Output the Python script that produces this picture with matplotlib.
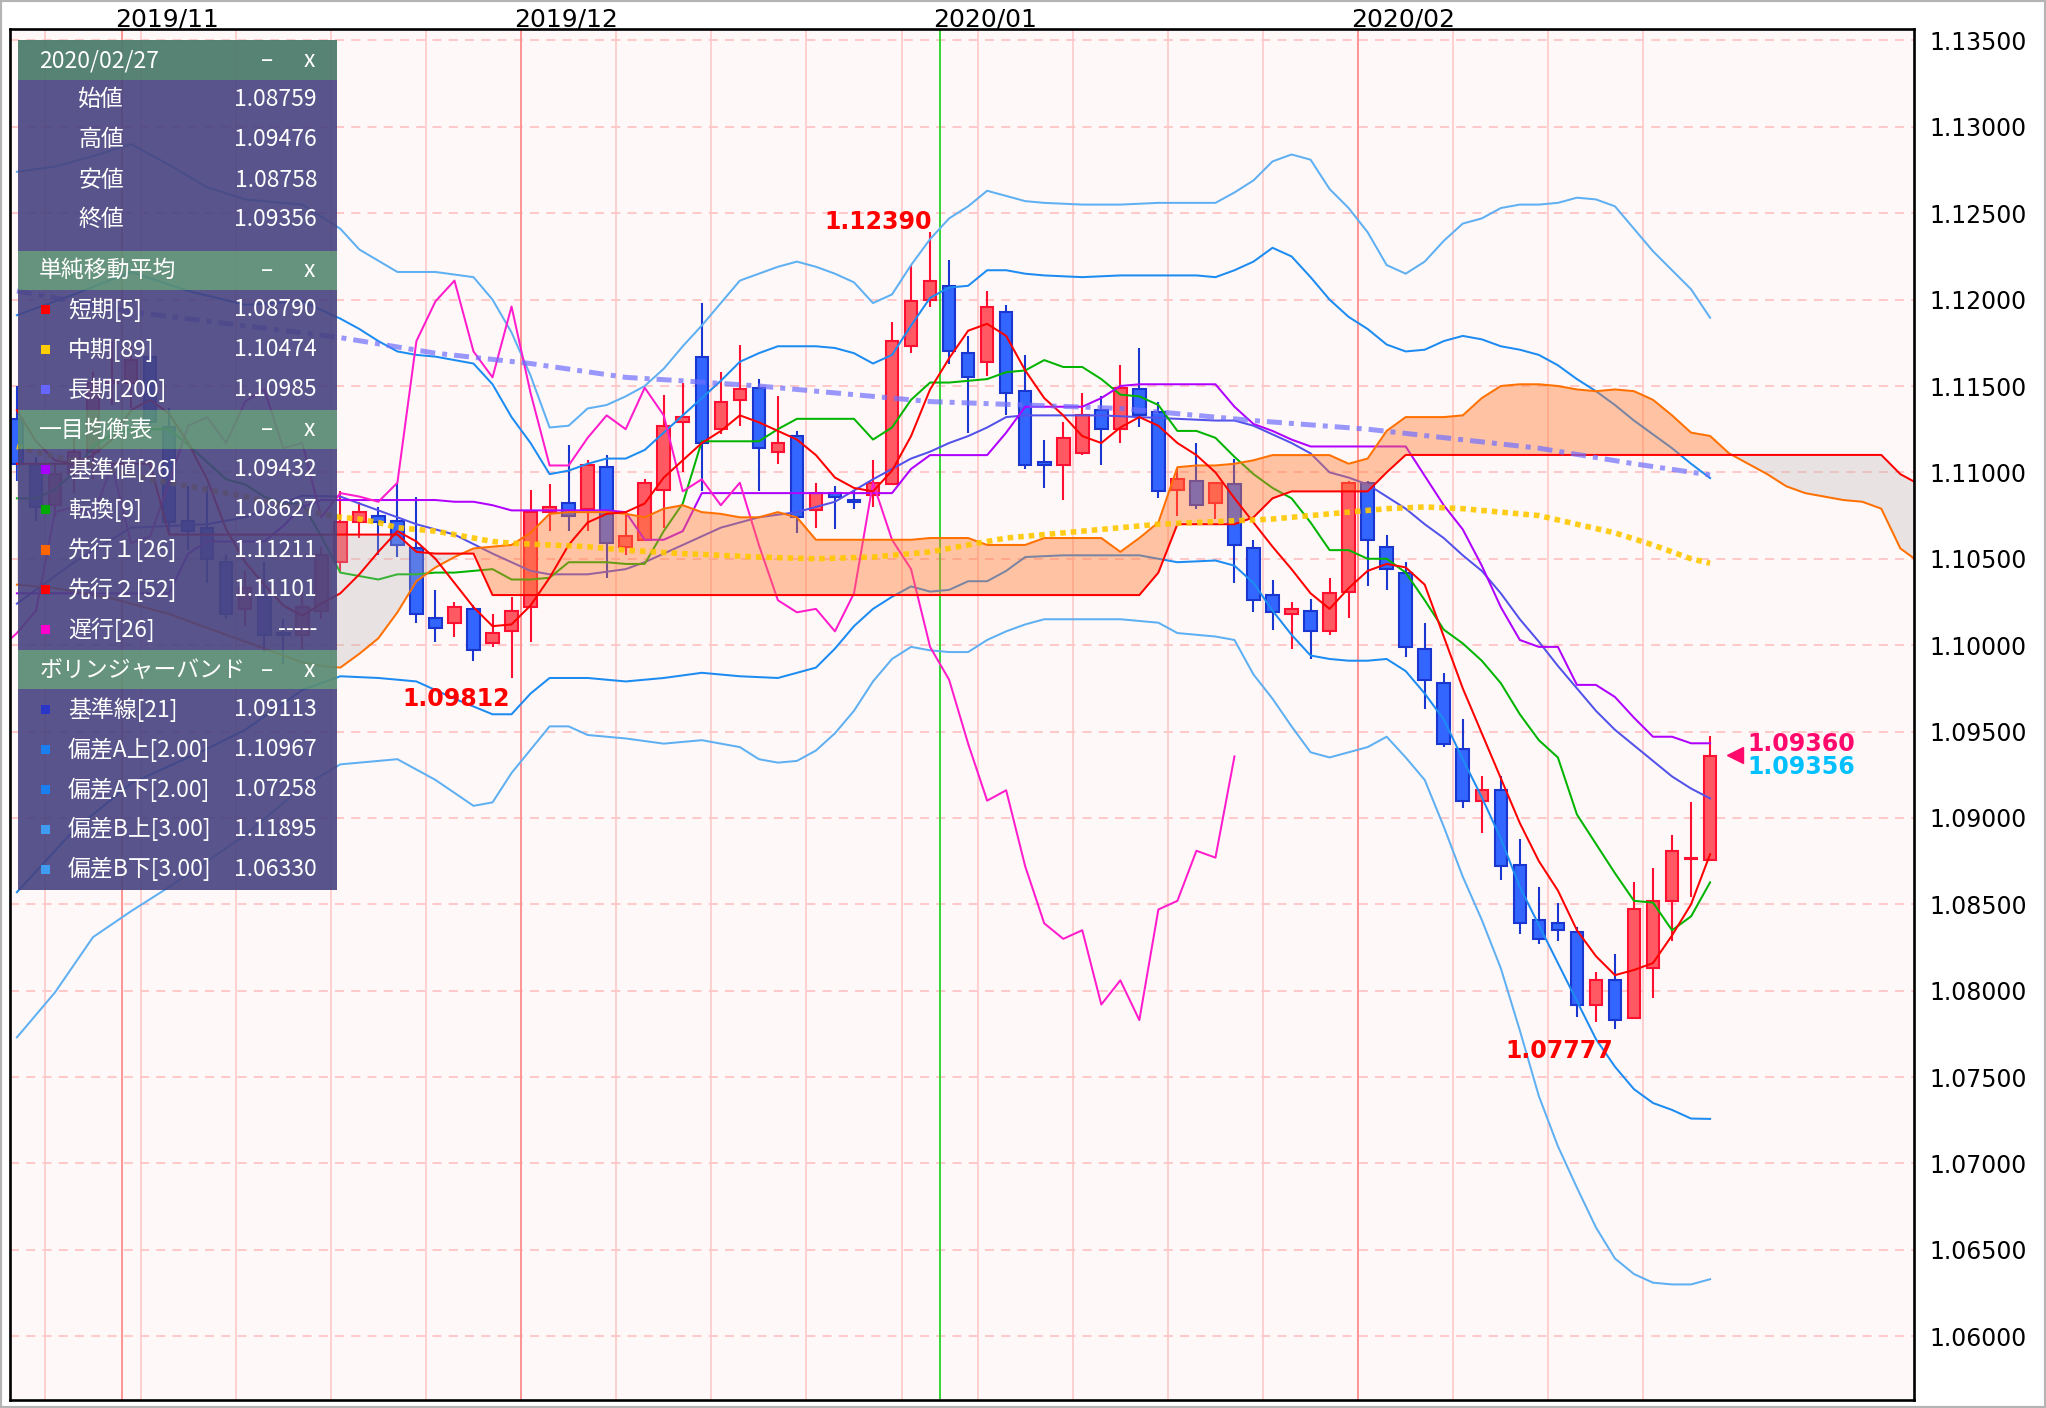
import datetime as dt
import numpy as np
import matplotlib
matplotlib.use("Agg")
import matplotlib.pyplot as plt
from matplotlib.patches import Rectangle

plt.rcParams['font.family'] = ['Noto Sans CJK JP', 'DejaVu Sans']

# ---------------------------------------------------------------- data
dates = ["2019-10-24", "2019-10-25", "2019-10-28", "2019-10-29", "2019-10-30", "2019-10-31",
         "2019-11-01", "2019-11-04", "2019-11-05", "2019-11-06", "2019-11-07", "2019-11-08",
         "2019-11-11", "2019-11-12", "2019-11-13", "2019-11-14", "2019-11-15", "2019-11-18",
         "2019-11-19", "2019-11-20", "2019-11-21", "2019-11-22", "2019-11-25", "2019-11-26",
         "2019-11-27", "2019-11-28", "2019-11-29",
         "2019-12-02", "2019-12-03", "2019-12-04", "2019-12-05", "2019-12-06", "2019-12-09",
         "2019-12-10", "2019-12-11", "2019-12-12", "2019-12-13", "2019-12-16", "2019-12-17",
         "2019-12-18", "2019-12-19", "2019-12-20", "2019-12-23", "2019-12-24", "2019-12-25",
         "2019-12-26", "2019-12-27", "2019-12-30", "2019-12-31",
         "2020-01-02", "2020-01-03", "2020-01-06", "2020-01-07", "2020-01-08", "2020-01-09",
         "2020-01-10", "2020-01-13", "2020-01-14", "2020-01-15", "2020-01-16", "2020-01-17",
         "2020-01-20", "2020-01-21", "2020-01-22", "2020-01-23", "2020-01-24", "2020-01-27",
         "2020-01-28", "2020-01-29", "2020-01-30", "2020-01-31",
         "2020-02-03", "2020-02-04", "2020-02-05", "2020-02-06", "2020-02-07", "2020-02-10",
         "2020-02-11", "2020-02-12", "2020-02-13", "2020-02-14", "2020-02-17", "2020-02-18",
         "2020-02-19", "2020-02-20", "2020-02-21", "2020-02-24", "2020-02-25", "2020-02-26",
         "2020-02-27"]

opens = [1.1131, 1.1104, 1.1081, 1.1099, 1.1112, 1.1152, 1.1152, 1.1167, 1.1126, 1.1072,
         1.1068, 1.1048, 1.1021, 1.1028, 1.1007, 1.1006, 1.1020, 1.1048, 1.1071, 1.1075,
         1.1072, 1.1056, 1.1016, 1.1013, 1.1021, 1.1001, 1.1008, 1.1022, 1.1077, 1.1082,
         1.1079, 1.1103, 1.1057, 1.1061, 1.1090, 1.1129, 1.1167, 1.1125, 1.1142, 1.1149,
         1.1112, 1.1121, 1.1078, 1.1088, 1.1084, 1.1087, 1.1093, 1.1173, 1.1200, 1.1208,
         1.1169, 1.1164, 1.1193, 1.1147, 1.1106, 1.1104, 1.1111, 1.1136, 1.1125, 1.1148,
         1.1135, 1.1090, 1.1095, 1.1082, 1.1093, 1.1056, 1.1029, 1.1018, 1.1020, 1.1008,
         1.1031, 1.1094, 1.1057, 1.1042, 1.0998, 1.0978, 1.0940, 1.0910, 1.0916, 1.0873,
         1.0841, 1.0839, 1.0834, 1.0792, 1.0806, 1.0784, 1.0813, 1.0852, 1.0876, 1.08759]
highs = [1.1150, 1.1109, 1.1105, 1.1121, 1.1158, 1.1176, 1.1175, 1.1176, 1.1137, 1.1092,
         1.1092, 1.1052, 1.1043, 1.1048, 1.1015, 1.1031, 1.1057, 1.1089, 1.1083, 1.1080,
         1.1094, 1.1086, 1.1032, 1.1025, 1.1023, 1.1018, 1.1028, 1.1090, 1.1093, 1.1116,
         1.1107, 1.1110, 1.1076, 1.1096, 1.1145, 1.1152, 1.1198, 1.1158, 1.1174, 1.1154,
         1.1144, 1.1124, 1.1094, 1.1092, 1.1090, 1.1107, 1.1187, 1.1220, 1.12390, 1.1223,
         1.1179, 1.1205, 1.1197, 1.1168, 1.1119, 1.1129, 1.1146, 1.1144, 1.1162, 1.1172,
         1.1141, 1.1102, 1.1117, 1.1094, 1.1108, 1.1061, 1.1038, 1.1025, 1.1027, 1.1039,
         1.1095, 1.1095, 1.1064, 1.1048, 1.1013, 1.0984, 1.0957, 1.0924, 1.0924, 1.0888,
         1.0860, 1.0851, 1.0837, 1.0811, 1.0821, 1.0863, 1.0871, 1.0890, 1.0909, 1.09476]
lows = [1.1095, 1.1072, 1.1074, 1.1088, 1.1096, 1.1139, 1.1137, 1.1123, 1.1064, 1.1055,
        1.1036, 1.1015, 1.1011, 1.0996, 1.0989, 1.0998, 1.1015, 1.1042, 1.1062, 1.1052,
        1.1051, 1.1013, 1.1002, 1.1005, 1.0991, 1.0999, 1.09812, 1.1002, 1.1066, 1.1066,
        1.1066, 1.1039, 1.1052, 1.1060, 1.1068, 1.1100, 1.1089, 1.1122, 1.1127, 1.1089,
        1.1105, 1.1065, 1.1068, 1.1067, 1.1079, 1.1080, 1.1093, 1.1169, 1.1196, 1.1163,
        1.1123, 1.1156, 1.1133, 1.1102, 1.1091, 1.1084, 1.1110, 1.1104, 1.1117, 1.1126,
        1.1085, 1.1075, 1.1079, 1.1073, 1.1036, 1.1019, 1.1009, 1.0998, 1.0992, 1.1006,
        1.1016, 1.1034, 1.1032, 1.0993, 1.0963, 1.0941, 1.0906, 1.0891, 1.0864, 1.0833,
        1.0827, 1.0829, 1.0785, 1.0782, 1.07777, 1.0784, 1.0796, 1.0829, 1.0854, 1.08758]
closes = [1.1105, 1.1080, 1.1099, 1.1112, 1.1152, 1.1153, 1.1165, 1.1129, 1.1071, 1.1066,
          1.1050, 1.1018, 1.1033, 1.1006, 1.1006, 1.1022, 1.1052, 1.1071, 1.1077, 1.1071,
          1.1058, 1.1018, 1.1010, 1.1022, 1.0997, 1.1007, 1.1020, 1.1077, 1.1080, 1.1075,
          1.1104, 1.1059, 1.1063, 1.1094, 1.1127, 1.1132, 1.1117, 1.1141, 1.1148, 1.1114,
          1.1117, 1.1074, 1.1088, 1.1086, 1.1083, 1.1094, 1.1176, 1.1199, 1.1211, 1.1170,
          1.1155, 1.1196, 1.1146, 1.1104, 1.1104, 1.1120, 1.1133, 1.1125, 1.1149, 1.1133,
          1.1089, 1.1096, 1.1081, 1.1094, 1.1058, 1.1026, 1.1019, 1.1021, 1.1008, 1.1030,
          1.1094, 1.1061, 1.1044, 1.0999, 1.0980, 1.0943, 1.0910, 1.0916, 1.0872, 1.0839,
          1.0830, 1.0835, 1.0792, 1.0806, 1.0783, 1.0847, 1.0852, 1.0881, 1.0877, 1.09356]

# simple moving averages
sma5 = [1.1136, 1.1118, 1.1107, 1.1105, 1.1110, 1.1119, 1.1136, 1.1142, 1.1134, 1.1117,
        1.1096, 1.1067, 1.1048, 1.1035, 1.1023, 1.1017, 1.1024, 1.1030, 1.1041, 1.1054,
        1.1066, 1.1060, 1.1050, 1.1036, 1.1022, 1.1011, 1.1012, 1.1023, 1.1039, 1.1058,
        1.1071, 1.1076, 1.1077, 1.1082, 1.1097, 1.1107, 1.1117, 1.1124, 1.1133, 1.1129,
        1.1124, 1.1119, 1.1110, 1.1097, 1.1091, 1.1089, 1.1101, 1.1121, 1.1148, 1.1166,
        1.1182, 1.1186, 1.1179, 1.1159, 1.1143, 1.1133, 1.1121, 1.1117, 1.1126, 1.1132,
        1.1127, 1.1117, 1.1110, 1.1100, 1.1085, 1.1071, 1.1057, 1.1044, 1.1030, 1.1021,
        1.1033, 1.1043, 1.1047, 1.1045, 1.1035, 1.1005, 1.0975, 1.0949, 1.0923, 1.0897,
        1.0875, 1.0858, 1.0835, 1.0820, 1.0809, 1.0812, 1.0816, 1.0832, 1.0850, 1.08790]
sma89_idx = [0, 2, 4, 7, 10, 12, 14, 16, 17, 18, 19, 20, 22, 23, 25, 26, 28, 30, 32, 35,
             39, 42, 45, 48, 50, 52, 54, 56, 58, 60, 62, 64, 66, 68, 70, 72, 74, 76, 78, 80,
             82, 84, 86, 88, 89]
sma89 = [1.1115, 1.1109, 1.1104, 1.1096, 1.1090, 1.1086, 1.1081, 1.1076, 1.1074, 1.1073,
         1.1071, 1.1068, 1.1066, 1.1064, 1.1060, 1.1059, 1.1058, 1.1057, 1.1055, 1.1053,
         1.1051, 1.1050, 1.1051, 1.1054, 1.1058, 1.1062, 1.1064, 1.1066, 1.1068, 1.1070,
         1.1071, 1.1072, 1.1073, 1.1075, 1.1077, 1.1079, 1.1080, 1.1079, 1.1077, 1.1075,
         1.1070, 1.1065, 1.1058, 1.1050, 1.10474]
sma200_idx = [0, 6, 17, 22, 27, 32, 35, 39, 42, 46, 48, 53, 58, 63, 65, 71, 80, 85, 89]
sma200 = [1.1205, 1.1193, 1.1178, 1.1169, 1.1163, 1.1155, 1.1153, 1.1150, 1.1147, 1.1143,
          1.1141, 1.1139, 1.1137, 1.1132, 1.1130, 1.1125, 1.1114, 1.1105, 1.10985]

# ichimoku
kijun = [1.1030, 1.1030, 1.1030, 1.1030, 1.1030, 1.1030, 1.1030, 1.1030, 1.1030, 1.1053,
         1.1060, 1.1060, 1.1060, 1.1060, 1.1069, 1.1080, 1.1084, 1.1084, 1.1084, 1.1084,
         1.1084, 1.1084, 1.1084, 1.1083, 1.1083, 1.1081, 1.1078, 1.1078, 1.1078, 1.1078,
         1.1078, 1.1078, 1.1077, 1.1061, 1.1061, 1.1066, 1.1088, 1.1088, 1.1088, 1.1088,
         1.1088, 1.1088, 1.1088, 1.1088, 1.1088, 1.1088, 1.1088, 1.1102, 1.1110, 1.1110,
         1.1110, 1.1110, 1.1123, 1.1138, 1.1138, 1.1138, 1.1138, 1.1143, 1.1150, 1.1151,
         1.1151, 1.1151, 1.1151, 1.1151, 1.1138, 1.1128, 1.1124, 1.1119, 1.1115, 1.1115,
         1.1115, 1.1115, 1.1115, 1.1115, 1.1098, 1.1081, 1.1067, 1.1046, 1.1022, 1.1003,
         1.0999, 1.0999, 1.0977, 1.0977, 1.0970, 1.0958, 1.0947, 1.0947, 1.09432, 1.09432]
tenkan = [1.1085, 1.1085, 1.1090, 1.1100, 1.1115, 1.1122, 1.1125, 1.1125, 1.1125, 1.1116,
          1.1106, 1.1096, 1.1093, 1.1086, 1.1082, 1.1082, 1.1063, 1.1042, 1.1040, 1.1038,
          1.1041, 1.1041, 1.1042, 1.1042, 1.1043, 1.1044, 1.1038, 1.1038, 1.1039, 1.1048,
          1.1048, 1.1048, 1.1047, 1.1047, 1.1066, 1.1082, 1.1118, 1.1118, 1.1118, 1.1118,
          1.1125, 1.1131, 1.1131, 1.1131, 1.1131, 1.1119, 1.1126, 1.1142, 1.1152, 1.1152,
          1.1153, 1.1154, 1.1158, 1.1159, 1.1165, 1.1161, 1.1161, 1.1154, 1.1145, 1.1144,
          1.1139, 1.1124, 1.1124, 1.1120, 1.1109, 1.1099, 1.1091, 1.1085, 1.1071, 1.1055,
          1.1055, 1.1050, 1.1050, 1.1042, 1.1026, 1.1009, 1.1001, 1.0991, 1.0978, 1.0960,
          1.0945, 1.0935, 1.0902, 1.0885, 1.0868, 1.0852, 1.0851, 1.0835, 1.0843, 1.08627]
senkou_a = [1.1035, 1.1034, 1.1033, 1.1031, 1.1029, 1.1027, 1.1024, 1.1021, 1.1018, 1.1014,
            1.1010, 1.1006, 1.1002, 1.0998, 1.0994, 1.0990, 1.0988, 1.0987, 1.0995, 1.1004,
            1.1019, 1.1037, 1.1045, 1.1051, 1.1056, 1.1057, 1.1058, 1.1065, 1.1076, 1.1077,
            1.1077, 1.1077, 1.1076, 1.1074, 1.1079, 1.1081, 1.1077, 1.1076, 1.1074, 1.1074,
            1.1077, 1.1074, 1.1061, 1.1061, 1.1061, 1.1061, 1.1061, 1.1061, 1.1062, 1.1062,
            1.1062, 1.1058, 1.1058, 1.1058, 1.1062, 1.1062, 1.1062, 1.1062, 1.1054, 1.1062,
            1.1071, 1.1103, 1.1104, 1.1104, 1.1105, 1.1107, 1.1110, 1.1110, 1.1110, 1.1110,
            1.1105, 1.1108, 1.1124, 1.1132, 1.1132, 1.1132, 1.1133, 1.1143, 1.1150, 1.1151,
            1.1151, 1.1150, 1.1148, 1.1147, 1.1148, 1.1147, 1.1142, 1.1133, 1.1123, 1.11211,
            1.1111, 1.1105, 1.1099, 1.1092, 1.1088, 1.1086, 1.1084, 1.1083, 1.1079, 1.1056,
            1.1048]
senkou_b = [1.1105, 1.1105, 1.1105, 1.1105, 1.1105, 1.1105, 1.1105, 1.1105, 1.1064, 1.1064,
            1.1064, 1.1064, 1.1064, 1.1064, 1.1064, 1.1064, 1.1064, 1.1064, 1.1064, 1.1064,
            1.1064, 1.1054, 1.1053, 1.1053, 1.1053, 1.1029, 1.1029, 1.1029, 1.1029, 1.1029,
            1.1029, 1.1029, 1.1029, 1.1029, 1.1029, 1.1029, 1.1029, 1.1029, 1.1029, 1.1029,
            1.1029, 1.1029, 1.1029, 1.1029, 1.1029, 1.1029, 1.1029, 1.1029, 1.1029, 1.1029,
            1.1029, 1.1029, 1.1029, 1.1029, 1.1029, 1.1029, 1.1029, 1.1029, 1.1029, 1.1029,
            1.1042, 1.1070, 1.1070, 1.1070, 1.1070, 1.1074, 1.1085, 1.1089, 1.1089, 1.1089,
            1.1089, 1.1089, 1.1100, 1.11101, 1.11101, 1.11101, 1.11101, 1.11101, 1.11101, 1.11101,
            1.11101, 1.11101, 1.11101, 1.11101, 1.11101, 1.11101, 1.11101, 1.11101, 1.11101, 1.11101,
            1.11101, 1.11101, 1.11101, 1.11101, 1.11101, 1.11101, 1.11101, 1.11101, 1.11101, 1.1099,
            1.1093]
chikou_shift = 25

# bollinger bands (21)
bb_mid_idx = [0, 3, 6, 8, 10, 12, 15, 17, 19, 21, 23, 25, 27, 28, 30, 32, 33, 35, 37, 39, 41,
              43, 45, 47, 48, 49, 50, 51, 52, 53, 55, 57, 59, 61, 63, 64, 65, 66, 67, 68, 69,
              70, 71, 72, 73, 74, 75, 76, 77, 78, 79, 80, 81, 82, 83, 84, 85, 86, 87, 88, 89]
bb_mid = [1.1024, 1.1048, 1.1068, 1.1069, 1.1070, 1.1074, 1.10865, 1.1086, 1.1078, 1.1070,
          1.1064, 1.1053, 1.1043, 1.1041, 1.1041, 1.1044, 1.1048, 1.1058, 1.1068, 1.1074,
          1.1077, 1.1083, 1.1096, 1.1108, 1.1112, 1.1117, 1.1121, 1.1126, 1.1132, 1.1133,
          1.1133, 1.1133, 1.1132, 1.1131, 1.1130, 1.1130, 1.1127, 1.1122, 1.1117, 1.1111,
          1.1100, 1.1097, 1.1093, 1.1086, 1.1079, 1.1070, 1.1062, 1.1052, 1.1043, 1.1030,
          1.1015, 1.1002, 1.0988, 1.0975, 1.0962, 1.0951, 1.0942, 1.0933, 1.0924, 1.0917,
          1.09113]
bb_up2_idx = [0, 3, 6, 9, 12, 15, 17, 18, 19, 20, 21, 22, 23, 24, 25, 26, 27, 28, 29, 30, 31,
              32, 33, 34, 35, 36, 37, 38, 39, 40, 41, 42, 43, 44, 45, 46, 47, 48, 49, 50, 51,
              52, 53, 54, 56, 58, 60, 62, 63, 64, 65, 66, 67, 68, 69, 70, 71, 72, 73, 74, 75,
              76, 77, 78, 79, 80, 81, 82, 83, 84, 85, 86, 87, 88, 89]
bb_up2 = [1.1191, 1.1203, 1.1216, 1.1205, 1.1197, 1.1199, 1.1189, 1.1183, 1.1176, 1.1170,
          1.1168, 1.1167, 1.1165, 1.1163, 1.1151, 1.1132, 1.1117, 1.1099, 1.1101, 1.1105,
          1.1108, 1.1108, 1.1113, 1.1123, 1.1133, 1.1143, 1.1153, 1.1164, 1.1169, 1.1173,
          1.1173, 1.1173, 1.1172, 1.1169, 1.1163, 1.1168, 1.1185, 1.1201, 1.1207, 1.1208,
          1.1217, 1.1217, 1.1215, 1.1214, 1.1213, 1.1214, 1.1214, 1.1214, 1.1213, 1.1217,
          1.1222, 1.1230, 1.1225, 1.1213, 1.1200, 1.1190, 1.1183, 1.1174, 1.1170, 1.1171,
          1.1176, 1.1179, 1.1177, 1.1173, 1.1171, 1.1168, 1.1162, 1.1154, 1.1147, 1.1139,
          1.1130, 1.1122, 1.1114, 1.1105, 1.10967]
bb_dn2_idx = [0, 3, 6, 8, 10, 12, 15, 17, 19, 21, 23, 25, 26, 27, 28, 30, 32, 34, 36, 38, 40,
              42, 43, 44, 45, 46, 47, 48, 49, 50, 51, 52, 53, 55, 57, 59, 61, 63, 64, 65, 66,
              67, 68, 69, 70, 71, 72, 73, 74, 75, 76, 77, 78, 79, 80, 81, 82, 83, 84, 85, 86,
              87, 88, 89]
bb_dn2 = [1.0857, 1.0893, 1.0920, 1.0930, 1.0940, 1.0951, 1.0974, 1.0982, 1.0981, 1.0979,
          1.0969, 1.0960, 1.0960, 1.0972, 1.0981, 1.0981, 1.0979, 1.0981, 1.0984, 1.0982,
          1.0981, 1.0987, 1.0998, 1.1011, 1.1021, 1.1028, 1.1034, 1.1031, 1.1032, 1.1037,
          1.1037, 1.1043, 1.1051, 1.1052, 1.1052, 1.1052, 1.1048, 1.1049, 1.1046, 1.1036,
          1.1020, 1.1006, 1.0994, 1.0992, 1.0991, 1.0991, 1.0992, 1.0985, 1.0972, 1.0957,
          1.0934, 1.0912, 1.0888, 1.0860, 1.0838, 1.0816, 1.0794, 1.0772, 1.0756, 1.0743,
          1.0735, 1.0731, 1.0726, 1.07258]
bb_up3_idx = [0, 2, 4, 6, 8, 10, 12, 15, 17, 18, 20, 22, 24, 25, 26, 27, 28, 29, 30, 31, 32,
              33, 34, 35, 36, 37, 38, 39, 40, 41, 42, 43, 44, 45, 46, 47, 48, 49, 50, 51, 52,
              53, 54, 56, 58, 60, 62, 63, 64, 65, 66, 67, 68, 69, 70, 71, 72, 73, 74, 75, 76,
              77, 78, 79, 80, 81, 82, 83, 84, 85, 86, 87, 88, 89]
bb_up3 = [1.1274, 1.1277, 1.1283, 1.1290, 1.1278, 1.1265, 1.1258, 1.1255, 1.1241, 1.1229,
          1.1216, 1.1216, 1.1213, 1.1200, 1.1181, 1.1156, 1.1126, 1.1127, 1.1137, 1.1139,
          1.1144, 1.1150, 1.1160, 1.1173, 1.1185, 1.1198, 1.1211, 1.1215, 1.1219, 1.1222,
          1.1219, 1.1215, 1.1210, 1.1198, 1.1203, 1.1220, 1.1235, 1.1247, 1.1254, 1.1263,
          1.1260, 1.1257, 1.1256, 1.1255, 1.1255, 1.1256, 1.1256, 1.1256, 1.1262, 1.1269,
          1.1280, 1.1284, 1.1281, 1.1264, 1.1253, 1.1239, 1.1220, 1.1215, 1.1222, 1.1234,
          1.1244, 1.1247, 1.1253, 1.1255, 1.1255, 1.1256, 1.1259, 1.1258, 1.1254, 1.1241,
          1.1228, 1.1217, 1.1206, 1.11895]
bb_dn3_idx = [0, 2, 4, 6, 8, 10, 12, 15, 17, 20, 22, 24, 25, 26, 28, 29, 30, 32, 34, 36, 38,
              39, 40, 41, 42, 43, 44, 45, 46, 47, 48, 49, 50, 51, 52, 53, 54, 56, 58, 60, 61,
              62, 63, 64, 65, 66, 67, 68, 69, 70, 71, 72, 73, 74, 75, 76, 77, 78, 79, 80, 81,
              82, 83, 84, 85, 86, 87, 88, 89]
bb_dn3 = [1.0773, 1.0799, 1.0831, 1.0846, 1.0860, 1.0875, 1.0890, 1.0918, 1.0931, 1.0934,
          1.0922, 1.0907, 1.0909, 1.0926, 1.0953, 1.0953, 1.0948, 1.0946, 1.0943, 1.0945,
          1.0941, 1.0934, 1.0932, 1.0933, 1.0939, 1.0949, 1.0962, 1.0979, 1.0992, 1.0999,
          1.0997, 1.0996, 1.0996, 1.1003, 1.1008, 1.1012, 1.1015, 1.1015, 1.1015, 1.1013,
          1.1007, 1.1006, 1.1005, 1.1003, 1.0983, 1.0969, 1.0953, 1.0938, 1.0935, 1.0938,
          1.0941, 1.0947, 1.0935, 1.0922, 1.0895, 1.0866, 1.0841, 1.0813, 1.0777, 1.0739,
          1.0710, 1.0686, 1.0663, 1.0645, 1.0636, 1.0631, 1.0630, 1.0630, 1.0633]

ytick_vals = [1.060, 1.065, 1.070, 1.075, 1.080, 1.085, 1.090, 1.095, 1.100, 1.105,
              1.110, 1.115, 1.120, 1.125, 1.130, 1.135]
last_price_bid = 1.09360

# ---------------------------------------------------------------- layout helpers
DW, DH = 1568.0, 1079.0


def F(xd, yd):
    return xd / DW, 1.0 - yd / DH


fig = plt.figure(figsize=(20.46, 14.08), dpi=100)
fig.patch.set_facecolor('white')
ax0, ay0 = F(8, 1073)
ax1, ay1 = F(1467, 22)
ax = fig.add_axes([ax0, ay0, ax1 - ax0, ay1 - ay0])
ax.set_facecolor('#fff8f8')
ax.set_xlim(-0.34, 99.73)
ax.set_ylim(1.0563, 1.13568)

# grid
for v in ytick_vals:
    ax.axhline(v, color='#ffc4c4', lw=1.3, ls=(0, (5, 4)), zorder=1)
dts = [dt.date.fromisoformat(d) for d in dates]
week_starts = [i for i in range(1, len(dts)) if dts[i].weekday() < dts[i - 1].weekday()]
month_starts = [i for i in range(1, len(dts)) if dts[i].month != dts[i - 1].month]
for i in week_starts:
    ax.axvline(i - 0.5, color='#ffc8c8', lw=1.2, zorder=1)
for i in month_starts:
    col = '#33d633' if dts[i].month == 1 else '#ff9494'
    ax.axvline(i - 0.5, color=col, lw=1.4, zorder=1.2)
    ax.text(i - 0.85, 1.0018, f'{dts[i].year}/{dts[i].month:02d}', transform=ax.get_xaxis_transform(),
            ha='left', va='baseline', fontsize=18, family='DejaVu Sans', color='black', clip_on=False)

# candles
idx = np.arange(len(closes))
o = np.array(opens); c = np.array(closes); h = np.array(highs); l = np.array(lows)
up = c >= o
dn = ~up
ax.vlines(idx[up], l[up], h[up], color='#ff1030', lw=1.5, zorder=3)
ax.vlines(idx[dn], l[dn], h[dn], color='#1a36d0', lw=1.5, zorder=3)
ax.bar(idx[up], (c - o)[up], bottom=o[up], width=0.66, color='#ff5a64', edgecolor='#ff1030',
       lw=1.5, zorder=3.1)
ax.bar(idx[dn], (c - o)[dn], bottom=o[dn], width=0.66, color='#3366ff', edgecolor='#1a36d0',
       lw=1.5, zorder=3.1)

# indicator lines under the cloud
lw = 1.45
ax.plot(bb_up3_idx, bb_up3, color='#5fb0f2', lw=lw, zorder=3.5)
ax.plot(bb_dn3_idx, bb_dn3, color='#5fb0f2', lw=lw, zorder=3.5)
ax.plot(bb_up2_idx, bb_up2, color='#1c8cf2', lw=lw, zorder=3.5)
ax.plot(bb_dn2_idx, bb_dn2, color='#1c8cf2', lw=lw, zorder=3.5)
ax.plot(bb_mid_idx, bb_mid, color='#5252ea', lw=lw, zorder=3.5)
ax.plot(idx, tenkan, color='#00b400', lw=lw, zorder=3.5)
ax.plot(idx, kijun, color='#b000ff', lw=lw, zorder=3.5)
ch_x = idx[chikou_shift - 1:] - chikou_shift
ax.plot(ch_x, c[chikou_shift - 1:], color='#ff1ccc', lw=lw, zorder=3.5)

# cloud
sidx = np.arange(len(senkou_a))
A = np.array(senkou_a); B = np.array(senkou_b)
ax.fill_between(sidx, A, B, where=A >= B, interpolate=True, color='#ff7a30', alpha=0.42, lw=0, zorder=4)
ax.fill_between(sidx, A, B, where=A < B, interpolate=True, color='#b8b2b2', alpha=0.3, lw=0, zorder=4)
ax.plot(sidx, A, color='#ff7000', lw=lw, zorder=5)
ax.plot(sidx, B, color='#ff0000', lw=lw, zorder=5)

# moving averages
ax.plot(idx, sma5, color='#ff0000', lw=lw, zorder=5)
ax.plot(sma89_idx, sma89, color='#ffc800', lw=4.0, ls=(0, (1, 0.9)), alpha=0.9,
        dash_capstyle='butt', zorder=5)
ax.plot(sma200_idx, sma200, color='#6e6eff', lw=3.6, ls=(0, (3, 1.4, 1, 1.4)), alpha=0.7,
        dash_capstyle='butt', zorder=5)

# high / low labels
imax = int(np.argmax(h))
ax.annotate(f'{h[imax]:.5f}', xy=(imax, h[imax]), xytext=(1, -1), textcoords='offset points',
            ha='right', va='bottom', color='#ff0000', fontsize=17, fontweight='bold',
            family='DejaVu Sans', zorder=7)
for rng in [(0, 60), (60, 90)]:
    j = rng[0] + int(np.argmin(l[rng[0]:rng[1]]))
    ax.annotate(f'{l[j]:.5f}', xy=(j, l[j]), xytext=(-1, -7), textcoords='offset points',
                ha='right', va='top', color='#ff0000', fontsize=17, fontweight='bold',
                family='DejaVu Sans', zorder=7)

# last price markers
ax.plot([idx[-1] + 1.3], [c[-1] + 0.0001], marker='<', ms=11, color='#ff0a6c', zorder=7, clip_on=False)
ax.text(idx[-1] + 1.95, c[-1] + 0.0007, f'{last_price_bid:.5f}', color='#ff0a6c', fontsize=17,
        fontweight='bold', family='DejaVu Sans', ha='left', va='center', zorder=7)
ax.text(idx[-1] + 1.95, c[-1] - 0.0006, f'{c[-1]:.5f}', color='#00c0ff', fontsize=17,
        fontweight='bold', family='DejaVu Sans', ha='left', va='center', zorder=7)

# axes styling
ax.set_xticks([])
ax.yaxis.tick_right()
ax.set_yticks(ytick_vals)
ax.set_yticklabels([f'{v:.5f}' for v in ytick_vals], fontsize=17, family='DejaVu Sans')
ax.tick_params(axis='y', length=0, pad=11)
for s in ax.spines.values():
    s.set_linewidth(1.9)
    s.set_color('black')
    s.set_zorder(8)

# ---------------------------------------------------------------- info panel
PX0, PX1 = 13.5, 258.5


def prect(yt, yb, color, alpha):
    xa, ya = F(PX0, yb)
    fig.add_artist(Rectangle((xa, ya), (PX1 - PX0) / DW, (yb - yt) / DH, transform=fig.transFigure,
                             facecolor=color, edgecolor='none', alpha=alpha, zorder=10))


def ptext(xd, yd, s, ha='left', color='white', size=16.5):
    fig.text(*F(xd, yd), s, ha=ha, va='center', color=color, fontsize=size, zorder=11)


def psquare(yd, color):
    xa, ya = F(31.5, yd + 3.5)
    fig.add_artist(Rectangle((xa, ya), 6.5 / DW, 7 / DH, transform=fig.transFigure,
                             facecolor=color, edgecolor='none', zorder=11))


headers = [(31, 61, dates[-1].replace('-', '/'), '#4a7a6a'),
           (192, 222, '単純移動平均', '#5a8c74'),
           (314, 344, '一目均衡表', '#5a8c74'),
           (498, 528, 'ボリンジャーバンド', '#5a8c74')]
bodies = [(61, 192), (222, 314), (344, 498), (528, 682)]
for yt, yb in bodies:
    prect(yt, yb, '#47427f', 0.9)
for yt, yb, title, col in headers:
    prect(yt, yb, col, 0.93)
    ym = (yt + yb) / 2 + 0.5
    ptext(30, ym, title)
    ptext(205, ym, '–', ha='center')
    ptext(237, ym, 'x', ha='center')

n = len(closes) - 1
ohlc_rows = [('始値', opens[n], 76.5), ('高値', highs[n], 107), ('安値', lows[n], 138), ('終値', closes[n], 168.5)]
for lab, val, y in ohlc_rows:
    ptext(60, y, lab)
    ptext(243, y, f'{val:.5f}', ha='right')

ind_rows = [
    ('短期[5]', f'{sma5[n]:.5f}', 237.5, '#ff0000'),
    ('中期[89]', f'{sma89[-1]:.5f}', 268, '#ffcc00'),
    ('長期[200]', f'{sma200[-1]:.5f}', 298.5, '#6666ff'),
    ('基準値[26]', f'{kijun[n]:.5f}', 360, '#aa00ff'),
    ('転換[9]', f'{tenkan[n]:.5f}', 390.5, '#00aa00'),
    ('先行１[26]', f'{senkou_a[n]:.5f}', 421.5, '#ff6600'),
    ('先行２[52]', f'{senkou_b[n]:.5f}', 452, '#ff0000'),
    ('遅行[26]', '-----', 482.5, '#ff00cc'),
    ('基準線[21]', f'{bb_mid[-1]:.5f}', 544, '#2a36c8'),
    ('偏差A上[2.00]', f'{bb_up2[-1]:.5f}', 574.5, '#1a7ff0'),
    ('偏差A下[2.00]', f'{bb_dn2[-1]:.5f}', 605, '#1a7ff0'),
    ('偏差B上[3.00]', f'{bb_up3[-1]:.5f}', 635.5, '#3f9cf0'),
    ('偏差B下[3.00]', f'{bb_dn3[-1]:.5f}', 666, '#3f9cf0'),
]
for lab, val, y, col in ind_rows:
    psquare(y, col)
    ptext(52, y, lab)
    ptext(243, y, val, ha='right')

# outer border
fig.add_artist(Rectangle((0, 0), 1, 1, transform=fig.transFigure, fill=False,
                         edgecolor='#b4b4b4', lw=3, zorder=20))

fig.savefig('out.png', dpi=100, facecolor='white')
